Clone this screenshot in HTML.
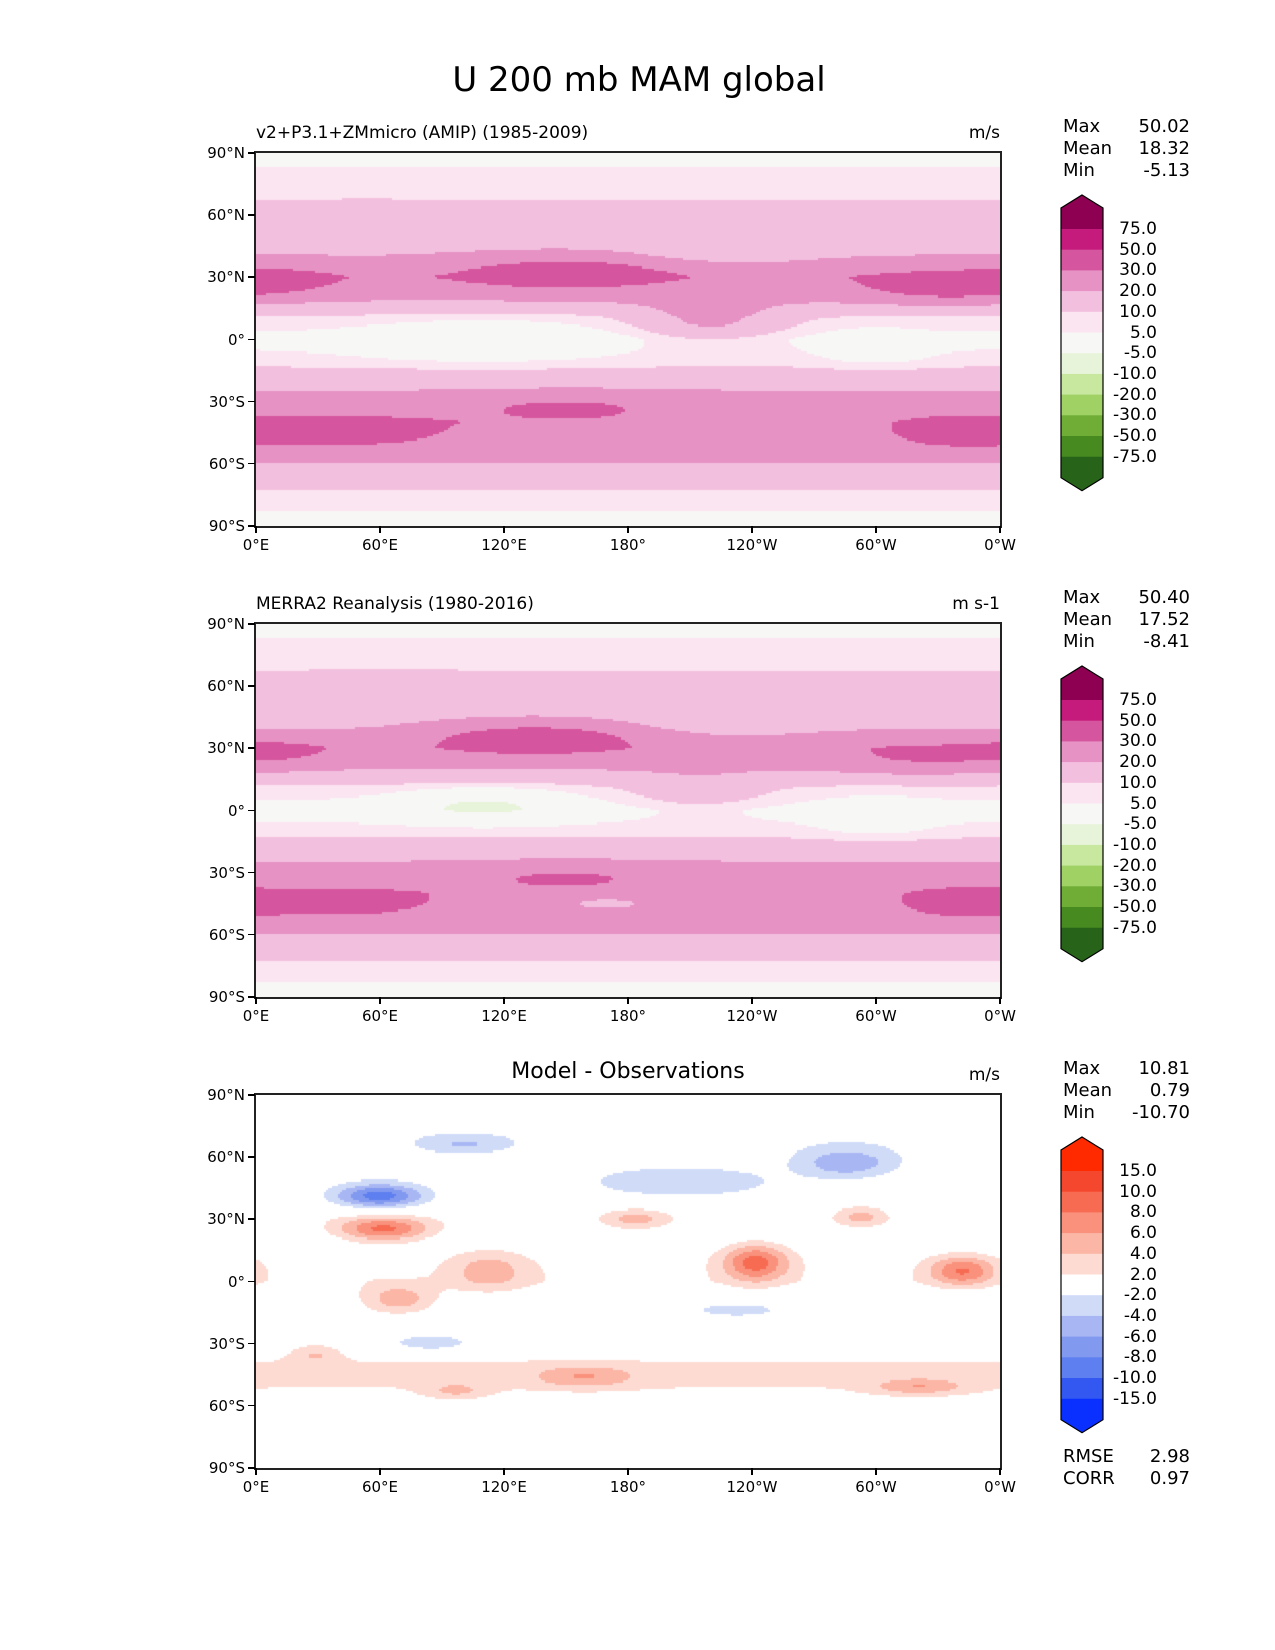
<!DOCTYPE html>
<html><head><meta charset="utf-8">
<style>
body{margin:0;background:#fff;width:1275px;height:1650px;position:relative;font-family:"DejaVu Sans","Liberation Sans",sans-serif;overflow:hidden}
.t{position:absolute;white-space:nowrap;color:#000}
canvas{position:absolute}
</style></head><body>
<div class="t" style="left:0;width:1278px;text-align:center;top:60px;font-size:34px">U 200 mb MAM global</div>
<div id="root"></div>
<script>
// ---- data ----
const profileLats=[90,80,70,60,50,40,30,20,10,0,-10,-20,-30,-40,-50,-60,-70,-80,-90];
const modelProfile=[3,6,9,13,16,20,28,22,9,3,7,16,24,28,26,20,12,6,3];
const obsProfile=[3,6,9,13,16,19,26,20,8,2,7,16,24,27,25,20,12,6,3];
const diffProfile=[0,-1,-1.5,-1,-0.5,0,1,0,1,1.5,0,0,0,2.2,2.2,0.5,1.5,0,0];
const modelBlobs=[[150,32,50,8,12],[330,25,40,8,10],[10,28,30,7,8],[220,8,35,10,14],[110,0,60,12,-6],[300,-5,25,10,-5],[40,-45,50,8,8],[150,-32,60,7,6],[340,-45,30,8,8],[230,45,40,10,-6]];
const obsBlobs=[[135,35,50,8,15],[320,25,40,8,8],[10,28,30,7,8],[215,8,35,10,8],[110,3,40,8,-10],[300,-5,25,10,-5],[40,-45,50,8,8],[150,-32,60,7,6],[340,-45,30,8,8],[230,45,40,10,-5],[170,-45,25,4,-8]];
const diffBlobs=[[60,41,22,6,-9],[62,25,22,6,8],[242,9,16,9,8],[342,5,16,7,7],[286,57,22,7,-5],[69,-9,18,7,5],[113,5,20,10,4],[184,30,16,5,4],[293,31,12,5,4],[85,-30,18,4,-4],[159,-46,25,5,4],[321,-51,22,4,4],[97,-53,15,4,3],[233,-14,25,4,-3],[29,-35,12,5,3],[187,9,10,5,-3],[206,47,50,8,-3],[101,66,20,4,-3]];
const pinkLevels=[-75,-50,-30,-20,-10,-5,5,10,20,30,50,75];
const pinkColors=['#276419','#468a20','#6fad37','#9fd164','#c8e8a0','#e8f4d9','#f7f7f6','#fbe5f1','#f3bfdf','#e692c4','#d5559e','#c51b7d','#8e0152'];
const diffLevels=[-15,-10,-8,-6,-4,-2,2,4,6,8,10,15];
const diffColors=['#0a30ff','#3358f2','#5e7ff0','#8299f0','#a8b7f3','#d0dbf8','#ffffff','#fddbd3','#fbb6a6','#f9917c','#f66b52','#f5472d','#ff2a00'];
const lonTicks=['0°E','60°E','120°E','180°','120°W','60°W','0°W'];
const latTicks=['90°N','60°N','30°N','0°','30°S','60°S','90°S'];
const panels=[
 {top:153,title:'v2+P3.1+ZMmicro (AMIP) (1985-2009)',center:false,units:'m/s',stats:['50.02','18.32','-5.13'],prof:modelProfile,blobs:modelBlobs,lv:pinkLevels,cl:pinkColors,labels:['75.0','50.0','30.0','20.0','10.0','5.0','-5.0','-10.0','-20.0','-30.0','-50.0','-75.0']},
 {top:624,title:'MERRA2 Reanalysis (1980-2016)',center:false,units:'m s-1',stats:['50.40','17.52','-8.41'],prof:obsProfile,blobs:obsBlobs,lv:pinkLevels,cl:pinkColors,labels:['75.0','50.0','30.0','20.0','10.0','5.0','-5.0','-10.0','-20.0','-30.0','-50.0','-75.0']},
 {top:1095,title:'Model - Observations',center:true,units:'m/s',stats:['10.81','0.79','-10.70'],prof:diffProfile,blobs:diffBlobs,lv:diffLevels,cl:diffColors,labels:['15.0','10.0','8.0','6.0','4.0','2.0','-2.0','-4.0','-6.0','-8.0','-10.0','-15.0']}
];
const L=256,W=744,H=373;
const root=document.getElementById('root');
function add(tag,css,txt,name,parent){const e=document.createElement(tag);e.className='t';e.style.cssText=css;if(txt!==undefined)e.textContent=txt;


(parent||root).appendChild(e);return e;}
function interp(prof,lat){const i=Math.min(17,Math.max(0,Math.floor((90-lat)/10)));const f=(90-lat-i*10)/10;return prof[i]*(1-f)+prof[i+1]*f;}
function field(p,lon,lat){let v=interp(p.prof,lat);for(const b of p.blobs){let d=lon-b[0];d=((d+540)%360)-180;v+=b[4]*Math.exp(-((d/b[2])**2+((lat-b[1])/b[3])**2));}return v;}
function colorOf(p,v){let i=0;while(i<p.lv.length&&v>=p.lv[i])i++;return p.cl[i];}
panels.forEach((p,k)=>{
 const T=p.top;
 const xs=lon=>L+lon/360*W, ys=lat=>T+(90-lat)/180*H;
 const c=document.createElement('canvas');c.width=W;c.height=H;c.style.left=L+'px';c.style.top=T+'px';
 
 
 root.appendChild(c);const g=c.getContext('2d');
 const st=1;
 for(let lon=0;lon<360;lon+=st)for(let lat=90;lat>-90;lat-=st){
  g.fillStyle=colorOf(p,field(p,lon+st/2,lat-st/2));
  g.fillRect(Math.floor(xs(lon)-L),Math.floor(ys(lat)-T),Math.ceil(st/360*W)+1,Math.ceil(st/180*H)+1);}
 add('div',`left:${L-2}px;top:${T-2}px;width:${W}px;height:${H}px;border:2px solid #222`,undefined,'map-frame-'+(k+1));
 if(p.center) add('div',`left:${L}px;width:${W}px;text-align:center;top:${T-36}px;font-size:22px`,p.title,'panel-title-'+(k+1));
 else add('div',`left:${L}px;top:${T-30}px;font-size:17px`,p.title,'panel-title-'+(k+1));
 add('div',`right:${1275-1000}px;top:${T-30}px;font-size:17px`,p.units,'units-'+(k+1));
 lonTicks.forEach((s,i)=>{const x=xs(i*60);
  add('div',`left:${x-1}px;top:${T+H}px;width:1.5px;height:7px;background:#000`,undefined,'x-tick');
  add('div',`left:${x-40}px;width:80px;text-align:center;top:${T+H+10}px;font-size:15px`,s,'x-tick-label');});
 latTicks.forEach((s,i)=>{const y=ys(90-i*30);
  add('div',`left:${L-8}px;top:${y-1}px;width:7px;height:1.5px;background:#000`,undefined,'y-tick');
  add('div',`right:${1275-L+11}px;top:${y-9}px;font-size:15px`,s,'y-tick-label');});
 ['Max','Mean','Min'].forEach((s,i)=>{
  add('div',`left:1063px;top:${T-37+i*22}px;font-size:18px`,s,'stat-label-'+s.toLowerCase());
  add('div',`right:${1275-1190}px;top:${T-37+i*22}px;font-size:18px`,p.stats[i],'stat-value-'+s.toLowerCase());});
 // colorbar
 const cb0=T+76, seg=20.7, cx=1061, cw=42;
 const svgNS='http://www.w3.org/2000/svg';
 const svg=document.createElementNS(svgNS,'svg');svg.setAttribute('width',60);svg.setAttribute('height',310);
 svg.style.cssText=`position:absolute;left:${cx-5}px;top:${cb0-40}px`;
 
 
 const ox=5, oy=40; const n=p.cl.length;
 let pts=`${ox},${oy-21} ${ox+cw/2},${oy-34} ${ox+cw},${oy-21} ${ox+cw},${oy} ${ox},${oy}`;
 let s=`<polygon points="${pts}" fill="${p.cl[n-1]}"/>`;
 for(let i=0;i<n-2;i++){s+=`<rect x="${ox}" y="${oy+i*seg}" width="${cw}" height="${seg+0.5}" fill="${p.cl[n-2-i]}"/>`;}
 const yb=oy+(n-2)*seg;
 s+=`<polygon points="${ox},${yb} ${ox+cw},${yb} ${ox+cw},${yb+21} ${ox+cw/2},${yb+34} ${ox},${yb+21}" fill="${p.cl[0]}"/>`;
 s+=`<polygon points="${ox},${oy-21} ${ox+cw/2},${oy-34} ${ox+cw},${oy-21} ${ox+cw},${yb+21} ${ox+cw/2},${yb+34} ${ox},${yb+21}" fill="none" stroke="#000" stroke-width="1.2"/>`;
 svg.innerHTML=s;root.appendChild(svg);
 p.labels.forEach((lb,i)=>{add('div',`right:${1275-1157}px;top:${cb0+i*seg-10}px;font-size:17px`,lb,'colorbar-label');});
});
add('div','left:1063px;top:1446px;font-size:18px','RMSE','rmse-label');
add('div','right:85px;top:1446px;font-size:18px','2.98','rmse-value');
add('div','left:1063px;top:1468px;font-size:18px','CORR','corr-label');
add('div','right:85px;top:1468px;font-size:18px','0.97','corr-value');
</script>
</body></html>
